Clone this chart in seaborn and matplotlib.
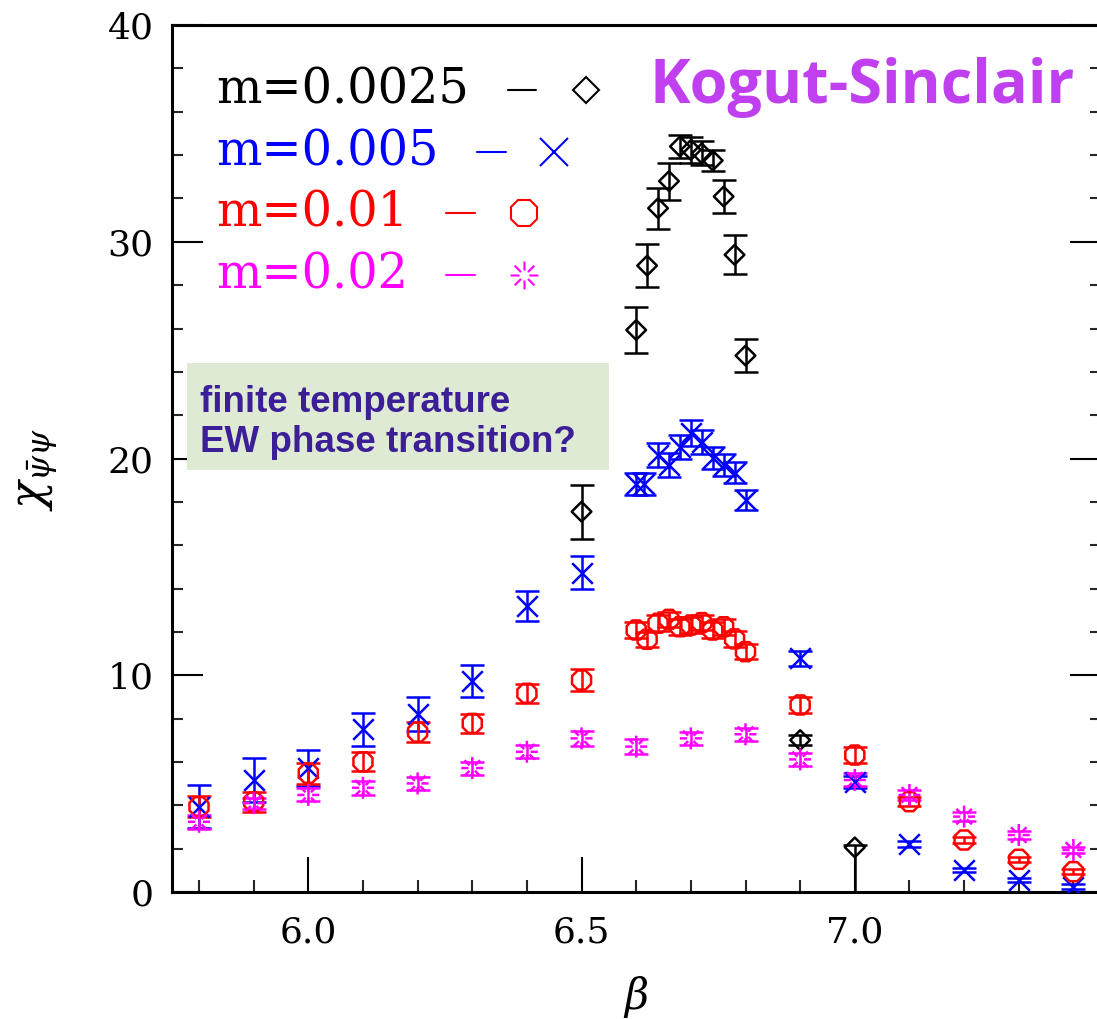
import numpy as np
import matplotlib
matplotlib.use("Agg")
import matplotlib.pyplot as plt
from matplotlib.path import Path
from matplotlib.patches import Rectangle
from matplotlib.ticker import MultipleLocator
import seaborn as sns

# ---- chiral susceptibility vs beta for four quark masses ----
beta_a = [6.50, 6.60, 6.62, 6.64, 6.66, 6.68, 6.70, 6.72, 6.74, 6.76, 6.78, 6.80, 6.90, 7.00]
chi_a = [17.55, 25.93, 28.9, 31.55, 32.8, 34.4, 34.24, 34.08, 33.75, 32.09, 29.4, 24.75, 7.01, 2.06]
err_lo_a = [1.25, 1.05, 1.0, 0.95, 0.85, 0.55, 0.6, 0.55, 0.47, 0.78, 0.9, 0.75, 0.23, 2.06]
err_hi_a = [1.25, 1.05, 1.0, 0.95, 0.85, 0.55, 0.6, 0.55, 0.47, 0.78, 0.9, 0.75, 0.23, 0.12]

beta_b = [5.8, 5.9, 6.0, 6.1, 6.2, 6.3, 6.4, 6.5, 6.60, 6.615, 6.64, 6.66, 6.68, 6.70,
          6.72, 6.74, 6.76, 6.78, 6.80, 6.9, 7.0, 7.1, 7.2, 7.3, 7.4]
chi_b = [3.94, 5.17, 5.71, 7.51, 8.21, 9.75, 13.2, 14.74, 18.83, 18.83, 20.17, 19.7, 20.55, 21.17,
         20.78, 20.01, 19.7, 19.35, 18.09, 10.78, 5.09, 2.22, 1.02, 0.55, 0.25]
err_b = [1.0, 1.0, 0.84, 0.77, 0.8, 0.73, 0.71, 0.75, 0.5, 0.5, 0.57, 0.55, 0.55, 0.6,
         0.55, 0.5, 0.5, 0.5, 0.48, 0.35, 0.27, 0.15, 0.1, 0.1, 0.1]

beta_c = [5.8, 5.9, 6.0, 6.1, 6.2, 6.3, 6.4, 6.5, 6.60, 6.62, 6.64, 6.66, 6.68, 6.70,
          6.72, 6.74, 6.76, 6.78, 6.80, 6.9, 7.0, 7.1, 7.2, 7.3, 7.4]
chi_c = [3.94, 4.16, 5.48, 6.01, 7.38, 7.78, 9.17, 9.78, 12.09, 11.66, 12.4, 12.58, 12.24, 12.32,
         12.43, 12.09, 12.24, 11.68, 11.09, 8.63, 6.32, 4.17, 2.4, 1.51, 0.94]
err_c = [0.5, 0.45, 0.48, 0.44, 0.48, 0.43, 0.44, 0.5, 0.36, 0.36, 0.36, 0.36, 0.36, 0.36,
         0.36, 0.36, 0.36, 0.36, 0.36, 0.35, 0.35, 0.2, 0.14, 0.12, 0.1]

beta_d = [5.8, 5.9, 6.0, 6.1, 6.2, 6.3, 6.4, 6.5, 6.6, 6.7, 6.8, 6.9, 7.0, 7.1, 7.2, 7.3, 7.4]
chi_d = [3.24, 4.1, 4.48, 4.81, 5.01, 5.72, 6.47, 7.09, 6.71, 7.09, 7.28, 6.12, 5.17, 4.48, 3.48, 2.63, 1.94]
err_d = [0.33, 0.25, 0.3, 0.33, 0.3, 0.3, 0.3, 0.33, 0.33, 0.3, 0.3, 0.3, 0.3, 0.25, 0.2, 0.18, 0.15]

mass_labels = ["m=0.0025", "m=0.005", "m=0.01", "m=0.02"]
colors = ["black", "#0000ff", "#ff0000", "#ff00ff"]

x_ticks = [6.0, 6.5, 7.0]
y_ticks = [0, 10, 20, 30, 40]


def burst_marker(arms=8, inner=0.35):
    """Asterisk with a hollow centre."""
    verts, codes = [], []
    for k in range(arms):
        a = 2 * np.pi * k / arms
        verts += [(inner * np.cos(a), inner * np.sin(a)), (np.cos(a), np.sin(a))]
        codes += [Path.MOVETO, Path.LINETO]
    return Path(verts, codes)


BURST = burst_marker()

sns.set_theme(style="ticks")
plt.rcParams["font.family"] = ["DejaVu Serif"]
plt.rcParams["mathtext.fontset"] = "dejavuserif"

fig = plt.figure(figsize=(10.97, 10.19), dpi=100)
ax = fig.add_axes([0.1565, 0.1246, 0.8469, 0.8508])

series = [
    (beta_a, chi_a, [err_lo_a, err_hi_a], "D", 100, True),
    (beta_b, chi_b, err_b, "x", 220, False),
    (beta_c, chi_c, err_c, "8", 220, True),
    (beta_d, chi_d, err_d, BURST, 250, True),
]

for (bx, cy, ey, mk, size, hollow), col in zip(series, colors):
    ax.errorbar(bx, cy, yerr=ey, fmt="none", ecolor=col, elinewidth=1.8,
                capsize=8.5, capthick=1.8, zorder=2)
    if hollow:
        sns.scatterplot(x=bx, y=cy, marker=mk, s=size, color=col, facecolor="none",
                        edgecolor=col, linewidth=1.8, ax=ax, zorder=3, legend=False)
    else:
        sns.scatterplot(x=bx, y=cy, marker=mk, s=size, color=col,
                        linewidth=1.8, ax=ax, zorder=3, legend=False)

ax.set_xlim(5.75, 7.45)
ax.set_ylim(0, 40)
ax.set_xticks(x_ticks)
ax.set_xticklabels([f"{v:.1f}" for v in x_ticks])
ax.set_yticks(y_ticks)
ax.set_yticklabels([str(v) for v in y_ticks])
ax.xaxis.set_minor_locator(MultipleLocator(0.1))
ax.yaxis.set_minor_locator(MultipleLocator(2))

ax.tick_params(axis="x", which="major", direction="in", length=25, width=1.5,
               labelsize=26, pad=17, top=False, colors="black")
ax.tick_params(axis="x", which="minor", direction="in", length=8.5, width=1.5, top=False)
ax.tick_params(axis="y", which="major", direction="in", length=22, width=1.5,
               labelsize=26, pad=13, right=True, left=True, colors="black")
ax.tick_params(axis="y", which="minor", direction="in", length=8, width=1.5,
               right=True, left=True)

for sp in ax.spines.values():
    sp.set_linewidth(2.2)
    sp.set_color("black")

ax.set_xlabel(r"$\beta$", fontsize=30, color="black")
ax.xaxis.set_label_coords(0.5, -0.094)
ax.set_ylabel(r"$\chi_{\bar{\psi}\psi}$", fontsize=33, color="black")
ax.yaxis.set_label_coords(-0.12, 0.487)

# legend: coloured label, short dash, then the symbol
leg_y = [0.925, 0.8535, 0.783, 0.7117]
dash_x = [(0.362, 0.392), (0.3285, 0.3597), (0.2953, 0.3265), (0.2953, 0.3265)]
mark_x = [0.446, 0.4118, 0.379, 0.379]
leg_marks = [("D", 13.5, True), ("x", 20, False), ("8", 21, True), (BURST, 20, True)]
for lab, col, yy, (x0, x1), mx, (mk, ms, hollow) in zip(mass_labels, colors, leg_y,
                                                         dash_x, mark_x, leg_marks):
    ax.text(0.0477, yy, lab, transform=ax.transAxes, fontsize=34.5, color=col,
            va="center", ha="left")
    ax.plot([x0, x1], [yy, yy], color=col, lw=1.5, transform=ax.transAxes, clip_on=False)
    ax.plot([mx], [yy], linestyle="none", marker=mk, markersize=ms,
            mfc="none" if hollow else col, mec=col, mew=1.5,
            transform=ax.transAxes, clip_on=False)

ax.text(0.743, 0.910, "Kogut-Sinclair", transform=ax.transAxes, fontsize=44,
        fontweight="bold", family=["Open Sans", "DejaVu Sans"], color="#c040f0",
        ha="center", va="baseline")

ax.add_patch(Rectangle((0.0165, 0.4867), 0.4542, 0.1234, transform=ax.transAxes,
                       facecolor="#dfead5", edgecolor="none", zorder=1))
ax.text(0.0305, 0.5536, "finite temperature", transform=ax.transAxes, fontsize=26.5,
        fontweight="bold", family=["Liberation Sans", "DejaVu Sans"], color="#3c1e96",
        ha="left", va="baseline", zorder=4)
ax.text(0.0305, 0.5075, "EW phase transition?", transform=ax.transAxes, fontsize=26.5,
        fontweight="bold", family=["Liberation Sans", "DejaVu Sans"], color="#3c1e96",
        ha="left", va="baseline", zorder=4)

fig.savefig("out.png", dpi=100)
